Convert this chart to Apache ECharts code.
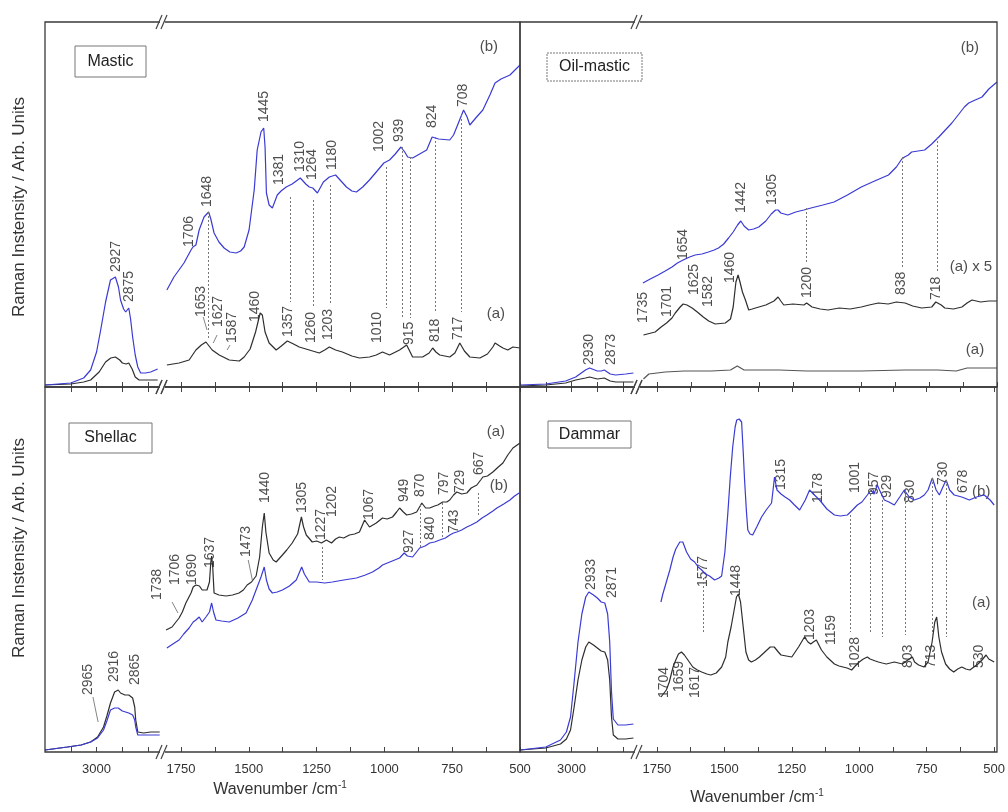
<!DOCTYPE html>
<html>
<head>
<meta charset="utf-8">
<title>Raman spectra</title>
<script src="https://cdn.jsdelivr.net/npm/echarts@6/dist/echarts.min.js"></script>
<style>
  html, body { margin: 0; padding: 0; background: #fff; }
  #chart { width: 1008px; height: 812px; }
</style>
</head>
<body>
<div id="chart"></div>
<script>
// ---- tick values ----
const highTicks = [3100, 3000, 2900, 2800];
const highTickLabels = [3000];
const lowTicks = [1750, 1625, 1500, 1375, 1250, 1125, 1000, 875, 750, 625, 500];
const lowTickLabels = [1750, 1500, 1250, 1000, 750, 500];

// ---- Mastic ----
const masticB_high = [[3200,2],[3100,4],[3050,9],[3023,17],[3000,35],[2984,57],[2965,85],[2946,107],[2927,110],[2915,100],[2907,87],[2895,78],[2887,75],[2875,79],[2868,68],[2860,50],[2850,32],[2840,20],[2829,14],[2810,14],[2790,15],[2763,18]];
const masticA_high = [[3200,2],[3100,3],[3050,5],[3023,7],[2990,15],[2965,25],[2945,29],[2927,30],[2910,27],[2900,24],[2885,23],[2875,24],[2862,18],[2850,10],[2835,7],[2800,7],[2763,7]];
const masticB_low = [[1802,97],[1776,110],[1739,124],[1713,137],[1706,140],[1695,142],[1683,157],[1665,170],[1648,175],[1640,168],[1628,154],[1610,145],[1591,139],[1570,135],[1547,134],[1530,136],[1517,140],[1499,157],[1480,197],[1469,237],[1455,255],[1445,259],[1440,240],[1435,194],[1425,182],[1413,179],[1395,192],[1381,196],[1362,200],[1340,203],[1310,209],[1290,203],[1277,200],[1264,199],[1247,194],[1225,205],[1203,210],[1180,212],[1160,206],[1140,200],[1120,196],[1103,195],[1080,200],[1055,207],[1030,215],[1002,224],[981,227],[960,233],[939,240],[925,235],[914,230],[896,229],[870,233],[844,237],[824,250],[800,248],[759,247],[745,252],[733,260],[708,277],[695,270],[685,262],[660,270],[637,277],[611,292],[592,304],[570,308],[537,312],[500,322]];
const masticA_low = [[1802,22],[1757,24],[1720,27],[1695,37],[1675,42],[1658,45],[1635,37],[1609,32],[1572,27],[1535,26],[1517,30],[1495,38],[1475,55],[1458,74],[1450,72],[1440,55],[1425,44],[1399,37],[1380,41],[1358,46],[1335,43],[1314,40],[1277,37],[1240,34],[1220,37],[1203,40],[1180,37],[1155,35],[1120,31],[1092,29],[1055,30],[1030,32],[1007,35],[981,32],[944,37],[918,42],[905,35],[896,30],[859,30],[835,34],[822,39],[810,35],[796,32],[759,30],[740,34],[722,44],[705,36],[685,30],[648,29],[620,33],[600,40],[592,44],[575,41],[563,39],[545,37],[526,40],[500,39]];
const masticLabelsHigh = [['2927',2925,115],['2875',2874,85]];
const masticLabelsLow = [['1706',1720,140],['1648',1654,180],['1653',1676,70],['1627',1613,60],['1587',1561,44],['1460',1476,65],['1445',1443,265],['1381',1387,202],['1310',1310,215],['1264',1265,207],['1180',1191,217],['1002',1021,235],['939',947,245],['824',825,259],['708',711,280],['1357',1354,50],['1260',1269,44],['1203',1206,47],['1010',1025,44],['915',907,42],['818',814,45],['717',729,47]];
const masticTags = [['(b)',615,340],['(a)',589,73]];
const masticGuides = [[1650,175,47],[1347,190,85],[1262,187,80],[1199,202,84],[995,220,79],[933,240,69],[903,230,69],[811,250,74],[718,272,75]];
const masticLeaders = [[1668,70,1654,57],[1617,52,1631,44],[1569,42,1580,37]];

// ---- Oil-mastic ----
const oilB_high = [[3200,2],[3100,3],[3023,6],[2984,10],[2946,17],[2930,19],[2900,16],[2885,16],[2873,17],[2850,13],[2829,12],[2790,13],[2760,14]];
const oilA_high = [[3200,1],[3100,2],[3023,4],[2984,7],[2946,9],[2930,10],[2900,8],[2873,9],[2850,6],[2829,5],[2760,5]];
const oilB_low = [[1802,104],[1775,108],[1746,112],[1720,116],[1695,120],[1675,124],[1654,127],[1630,130],[1610,132],[1585,133],[1561,135],[1540,137],[1524,139],[1505,143],[1487,149],[1470,155],[1454,162],[1442,166],[1430,161],[1413,157],[1395,158],[1376,160],[1350,166],[1330,173],[1314,177],[1305,177],[1295,174],[1269,172],[1240,175],[1210,177],[1184,179],[1140,182],[1099,185],[1050,192],[999,200],[950,206],[899,212],[870,220],[850,228],[840,230],[826,232],[814,235],[790,236],[766,237],[740,243],[714,250],[690,257],[666,264],[640,273],[620,280],[604,284],[580,287],[555,290],[530,298],[500,305]];
const oilA5_low = [[1800,52],[1757,55],[1735,60],[1715,64],[1695,69],[1683,74],[1665,80],[1654,83],[1640,82],[1621,79],[1602,75],[1580,70],[1560,66],[1536,63],[1499,64],[1480,68],[1470,80],[1460,105],[1452,112],[1445,105],[1436,95],[1425,87],[1413,77],[1400,78],[1388,79],[1350,82],[1320,86],[1305,90],[1295,86],[1284,82],[1250,83],[1210,82],[1200,84],[1180,80],[1150,78],[1121,77],[1080,79],[1040,78],[999,80],[970,82],[936,84],[900,83],[870,85],[838,84],[810,81],[777,79],[740,80],[725,85],[718,87],[705,82],[692,79],[660,78],[629,80],[610,84],[592,87],[560,85],[530,86],[507,86],[500,86]];
const oilA_low = [[1800,8],[1780,13],[1720,15],[1650,16],[1550,16],[1480,17],[1455,21],[1430,17],[1300,17],[1200,16],[1000,16],[838,17],[718,17],[650,16],[610,19],[500,19]];
const oilLabelsHigh = [['2930',2932,22],['2873',2847,22]];
const oilLabelsLow = [['1735',1802,64],['1701',1713,70],['1654',1654,127],['1625',1614,92],['1582',1562,80],['1460',1481,104],['1442',1440,174],['1305',1326,182],['1200',1197,89],['838',854,92],['718',725,87]];
const oilTags = [['(b)',600,339],['(a) x 5',596,120],['(a)',581,37]];
const oilGuides = [[1200,179,124],[847,230,120],[721,250,114]];

// ---- Shellac ----
const shellacA_high = [[3200,2],[3113,5],[3060,7],[3023,10],[2996,15],[2973,25],[2960,36],[2946,49],[2930,60],[2916,62],[2907,59],[2890,57],[2875,57],[2860,54],[2852,45],[2848,32],[2840,20],[2817,19],[2790,20],[2755,20]];
const shellacB_high = [[3200,2],[3113,5],[3060,7],[3023,10],[2996,14],[2973,22],[2960,31],[2946,42],[2930,44],[2916,44],[2900,41],[2875,39],[2860,37],[2852,32],[2848,25],[2840,17],[2817,17],[2790,17],[2755,17]];
const shellacA_low = [[1805,122],[1783,125],[1757,134],[1745,140],[1732,149],[1713,159],[1705,165],[1695,167],[1690,169],[1682,166],[1672,162],[1654,162],[1645,170],[1640,190],[1637,196],[1633,185],[1628,159],[1610,157],[1584,156],[1560,157],[1536,159],[1520,162],[1506,167],[1490,170],[1473,176],[1460,195],[1450,225],[1443,239],[1437,220],[1425,199],[1410,192],[1399,190],[1376,197],[1360,202],[1340,209],[1320,218],[1306,235],[1298,225],[1288,217],[1266,210],[1250,211],[1232,209],[1214,212],[1195,209],[1180,213],[1166,215],[1150,214],[1129,217],[1110,218],[1092,220],[1073,232],[1055,225],[1030,229],[1007,234],[990,233],[970,235],[955,240],[944,244],[930,240],[918,237],[900,238],[881,240],[862,249],[848,244],[833,244],[815,246],[803,247],[785,250],[770,250],[759,252],[745,257],[733,260],[715,258],[696,259],[680,264],[659,267],[645,272],[637,275],[620,276],[600,280],[580,285],[563,289],[545,297],[526,304],[500,309]];
const shellacB_low = [[1802,104],[1780,108],[1757,112],[1740,118],[1720,124],[1705,130],[1695,132],[1683,135],[1672,130],[1658,135],[1645,140],[1637,149],[1630,140],[1621,132],[1600,131],[1572,130],[1540,134],[1510,139],[1487,152],[1469,165],[1455,175],[1443,185],[1435,172],[1425,163],[1413,159],[1395,160],[1376,162],[1350,166],[1325,172],[1305,185],[1295,178],[1277,170],[1250,170],[1220,169],[1192,170],[1150,172],[1103,174],[1070,177],[1044,180],[1020,184],[1007,187],[980,190],[944,194],[927,199],[915,196],[896,195],[870,204],[850,206],[833,209],[815,210],[796,212],[775,214],[759,217],[745,219],[733,220],[715,222],[696,225],[680,227],[659,230],[640,234],[622,237],[600,241],[585,244],[560,248],[537,252],[520,256],[503,259]];
const shellacLabelsHigh = [['2965',3033,57],['2916',2932,70],['2865',2851,67]];
const shellacLabelsLow = [['1738',1838,152],['1706',1772,167],['1690',1709,167],['1637',1643,184],['1473',1509,195],['1440',1439,249],['1305',1302,239],['1227',1232,212],['1202',1191,235],['1067',1058,232],['949',929,250],['870',870,255],['797',781,257],['729',722,259],['667',652,277],['927',910,199],['840',833,212],['743',744,219]];
const shellacTags = [['(a)',589,320],['(b)',578,266]];
const shellacGuides = [[1228,205,172],[866,247,205],[785,249,214],[655,259,235]];
const shellacLeadersHigh = [[3014,55,2994,30]];
const shellacLeaders = [[1502,192,1487,172],[1783,150,1761,139]];

// ---- Dammar ----
const dammarB_high = [[3200,2],[3100,5],[3043,12],[3020,20],[3004,35],[2990,70],[2975,110],[2960,138],[2945,155],[2933,160],[2915,157],[2900,154],[2885,150],[2871,149],[2860,138],[2852,110],[2845,60],[2838,33],[2820,27],[2790,27],[2760,28]];
const dammarA_high = [[3200,2],[3100,4],[3043,8],[3020,13],[3004,22],[2990,45],[2975,72],[2960,92],[2945,105],[2933,110],[2915,107],[2900,104],[2885,101],[2871,100],[2860,92],[2852,72],[2845,35],[2838,17],[2820,13],[2790,13],[2760,14]];
const dammarB_low = [[1735,150],[1728,158],[1715,170],[1702,182],[1690,195],[1680,203],[1665,210],[1654,210],[1640,200],[1625,193],[1610,190],[1597,185],[1584,182],[1570,178],[1555,176],[1536,172],[1520,174],[1510,176],[1498,200],[1487,239],[1478,275],[1469,305],[1460,325],[1454,332],[1445,333],[1436,330],[1430,300],[1425,272],[1418,240],[1413,222],[1405,218],[1395,217],[1380,225],[1362,235],[1345,242],[1325,249],[1314,275],[1305,262],[1290,258],[1275,255],[1258,252],[1240,247],[1221,242],[1200,252],[1184,262],[1170,258],[1147,252],[1120,243],[1092,237],[1070,236],[1044,237],[1025,242],[1007,247],[990,250],[970,257],[957,262],[945,258],[933,267],[925,262],[907,252],[890,250],[870,247],[850,255],[833,262],[815,255],[796,252],[775,254],[759,257],[745,262],[729,274],[715,262],[703,257],[690,265],[678,272],[665,262],[648,257],[620,255],[592,252],[565,255],[537,257],[515,252],[500,247]];
const dammarA_low = [[1735,55],[1715,62],[1704,70],[1690,85],[1680,92],[1670,98],[1659,100],[1648,97],[1635,92],[1617,85],[1600,82],[1584,80],[1565,78],[1550,77],[1530,79],[1510,85],[1495,95],[1487,110],[1475,125],[1465,140],[1455,155],[1448,158],[1440,150],[1430,125],[1420,100],[1410,92],[1400,90],[1385,92],[1370,95],[1350,100],[1330,105],[1315,105],[1300,100],[1290,97],[1270,96],[1250,95],[1225,105],[1203,115],[1190,110],[1180,108],[1170,110],[1159,112],[1140,102],[1120,95],[1100,90],[1092,88],[1075,86],[1060,85],[1045,84],[1028,82],[1015,86],[1000,90],[985,93],[970,95],[960,93],[950,92],[940,91],[929,90],[915,89],[900,88],[885,89],[870,90],[855,89],[840,88],[820,92],[803,95],[795,90],[780,87],[760,85],[745,90],[730,110],[720,130],[713,135],[705,115],[695,100],[680,88],[665,83],[650,80],[635,83],[620,85],[605,83],[590,82],[575,85],[560,88],[545,92],[530,97],[520,93],[500,90]];
const dammarLabelsHigh = [['2933',2925,162],['2871',2843,154]];
const dammarLabelsLow = [['1704',1724,54],['1659',1669,60],['1617',1610,54],['1577',1577,165],['1448',1455,156],['1315',1289,262],['1178',1153,249],['1001',1016,259],['957',946,257],['929',898,254],['830',810,249],['730',688,267],['678',614,259],['1203',1182,112],['1159',1105,107],['1028',1016,84],['803',817,84],['713',732,84],['530',555,84]];
const dammarTags = [['(b)',548,260],['(a)',548,149]];
const dammarGuides = [[1577,174,120],[1035,237,120],[961,262,118],[913,252,115],[830,262,117],[730,274,117],[678,272,115]];

// ---- layout / style ----
const FONT = "'Liberation Sans', Arial, sans-serif";
const BLUE = '#3a3ad4';
const BLACK = '#2e2e2e';
const TXT = '#222';
const COLS = [
  { x0: 45, xb: 161, xl: 162, x1: 520, brk: 162 },
  { x0: 520, xb: 636, xl: 638, x1: 997, brk: 637 }
];
const ROWS = [{ y0: 22, y1: 387 }, { y0: 387, y1: 752 }];
const YMAX = 365;

const panels = [
  { name: 'Mastic', col: 0, row: 0, box: [75, 46, 71, 31],
    high: [[masticA_high, BLACK], [masticB_high, BLUE]], low: [[masticA_low, BLACK], [masticB_low, BLUE]],
    labelsHigh: masticLabelsHigh, labelsLow: masticLabelsLow, tags: masticTags, guides: masticGuides, leaders: masticLeaders },
  { name: 'Oil-mastic', col: 1, row: 0, box: [547, 53, 95, 28], dashed: true,
    high: [[oilA_high, BLACK], [oilB_high, BLUE]], low: [[oilA_low, '#555'], [oilA5_low, BLACK], [oilB_low, BLUE]],
    labelsHigh: oilLabelsHigh, labelsLow: oilLabelsLow, tags: oilTags, guides: oilGuides },
  { name: 'Shellac', col: 0, row: 1, box: [69, 423, 83, 30],
    high: [[shellacA_high, BLACK], [shellacB_high, BLUE]], low: [[shellacA_low, BLACK], [shellacB_low, BLUE]],
    labelsHigh: shellacLabelsHigh, labelsLow: shellacLabelsLow, tags: shellacTags, guides: shellacGuides,
    leaders: shellacLeaders, leadersHigh: shellacLeadersHigh },
  { name: 'Dammar', col: 1, row: 1, box: [548, 421, 83, 27],
    high: [[dammarA_high, BLACK], [dammarB_high, BLUE]], low: [[dammarA_low, BLACK], [dammarB_low, BLUE]],
    labelsHigh: dammarLabelsHigh, labelsLow: dammarLabelsLow, tags: dammarTags, guides: dammarGuides }
];

const grids = [], xAxes = [], topAxes = [], yAxes = [], series = [], graphics = [];

function xAxisFor(gridIndex, region, showLabels, position) {
  const hi = region === 'high';
  return {
    gridIndex, type: 'value', inverse: true, position: position || 'bottom',
    min: hi ? 2750 : 500, max: hi ? 3200 : 1820,
    axisLine: { show: false }, splitLine: { show: false },
    axisTick: { show: true, inside: true, length: 5, customValues: hi ? highTicks : lowTicks,
      lineStyle: { color: '#444', width: 1 } },
    axisLabel: { show: showLabels, customValues: hi ? highTickLabels : lowTickLabels, margin: 11,
      formatter: v => String(v), fontSize: 13, color: '#333', fontFamily: FONT }
  };
}

function lineMarks(guides, leaders) {
  const data = [];
  (guides || []).forEach(g => data.push([{ coord: [g[0], g[1]] }, { coord: [g[0], g[2]] }]));
  (leaders || []).forEach(l => data.push([{ coord: [l[0], l[1]], lineStyle: { type: 'solid', color: '#666', width: 0.8 } }, { coord: [l[2], l[3]] }]));
  return { silent: true, symbol: ['none', 'none'], animation: false, label: { show: false },
    lineStyle: { type: [2, 2], color: '#777', width: 1 }, data };
}

function labelSeries(g, labels, rotated, marks) {
  return {
    type: 'scatter', xAxisIndex: g, yAxisIndex: g, symbolSize: 1, clip: false, silent: true,
    itemStyle: { color: 'rgba(0,0,0,0)' },
    data: labels.map(l => ({ value: [l[1], l[2]], name: l[0] })),
    label: rotated
      ? { show: true, position: 'inside', rotate: 90, align: 'left', verticalAlign: 'middle',
          formatter: p => p.name, fontSize: 14, color: TXT, fontFamily: FONT }
      : { show: true, position: 'inside', align: 'center', verticalAlign: 'middle',
          formatter: p => p.name, fontSize: 15, color: TXT, fontFamily: FONT },
    markLine: marks
  };
}

panels.forEach(p => {
  const c = COLS[p.col], r = ROWS[p.row];
  const h = r.y1 - r.y0;
  const gH = grids.length;
  grids.push({ left: c.x0, top: r.y0, width: c.xb - c.x0, height: h });
  const gL = grids.length;
  grids.push({ left: c.xl, top: r.y0, width: c.x1 - c.xl, height: h });
  const bottomRow = p.row === 1;
  xAxes.push(xAxisFor(gH, 'high', bottomRow));
  xAxes.push(xAxisFor(gL, 'low', bottomRow));
  if (bottomRow) {
    topAxes.push(xAxisFor(gH, 'high', false, 'top'));
    topAxes.push(xAxisFor(gL, 'low', false, 'top'));
  }
  yAxes.push({ gridIndex: gH, type: 'value', min: 0, max: YMAX, show: false });
  yAxes.push({ gridIndex: gL, type: 'value', min: 0, max: YMAX, show: false });

  p.high.forEach(([d, col]) => series.push({ type: 'line', xAxisIndex: gH, yAxisIndex: gH, data: d,
    symbol: 'none', silent: true, lineStyle: { color: col, width: 1.2 } }));
  p.low.forEach(([d, col]) => series.push({ type: 'line', xAxisIndex: gL, yAxisIndex: gL, data: d,
    symbol: 'none', silent: true, lineStyle: { color: col, width: 1.2 } }));

  series.push(labelSeries(gH, p.labelsHigh, true, lineMarks([], p.leadersHigh)));
  series.push(labelSeries(gL, p.labelsLow, true, lineMarks(p.guides, p.leaders)));
  series.push(labelSeries(gL, p.tags, false));

  // frame
  graphics.push({ type: 'rect', z: 10, silent: true,
    shape: { x: c.x0, y: r.y0, width: c.x1 - c.x0, height: h },
    style: { fill: 'none', stroke: '#3a3a3a', lineWidth: 1.3 } });
  // axis breaks
  [r.y0, r.y1].forEach(y => {
    graphics.push({ type: 'rect', z: 11, silent: true, shape: { x: c.brk - 2, y: y - 2, width: 5, height: 4 }, style: { fill: '#fff' } });
    graphics.push({ type: 'line', z: 12, silent: true, shape: { x1: c.brk - 6, y1: y + 7, x2: c.brk, y2: y - 7 }, style: { stroke: '#444', lineWidth: 1.2 } });
    graphics.push({ type: 'line', z: 12, silent: true, shape: { x1: c.brk - 1, y1: y + 7, x2: c.brk + 5, y2: y - 7 }, style: { stroke: '#444', lineWidth: 1.2 } });
  });
  // sample name box
  const [bx, by, bw, bh] = p.box;
  graphics.push({ type: 'rect', z: 10, silent: true, shape: { x: bx, y: by, width: bw, height: bh },
    style: { fill: '#fff', stroke: '#777', lineWidth: 1, lineDash: p.dashed ? [2, 1] : null } });
  graphics.push({ type: 'text', z: 11, silent: true, x: bx + bw / 2, y: by + bh / 2,
    style: { text: p.name, fill: TXT, font: '16px ' + FONT, textAlign: 'center', textVerticalAlign: 'middle' } });
});

// axis titles
[207, 548].forEach(y => graphics.push({ type: 'text', silent: true, x: 19, y, rotation: Math.PI / 2,
  style: { text: 'Raman Instensity / Arb. Units', fill: '#333', font: '17px ' + FONT, textAlign: 'center', textVerticalAlign: 'middle' } }));
[[280, 790], [757, 798]].forEach(([x, y]) => graphics.push({ type: 'text', silent: true, x, y,
  style: { text: '{a|Wavenumber /cm}{s|-1}', textAlign: 'center', textVerticalAlign: 'middle', fill: '#333',
    rich: { a: { fontSize: 16, fontFamily: FONT, fill: '#333' }, s: { fontSize: 10, fontFamily: FONT, fill: '#333', padding: [0, 0, 9, 0] } } } }));

const chart = echarts.init(document.getElementById('chart'));
chart.setOption({
  animation: false,
  backgroundColor: '#fff',
  grid: grids,
  xAxis: xAxes.concat(topAxes),
  yAxis: yAxes,
  series,
  graphic: graphics
});
</script>
</body>
</html>
